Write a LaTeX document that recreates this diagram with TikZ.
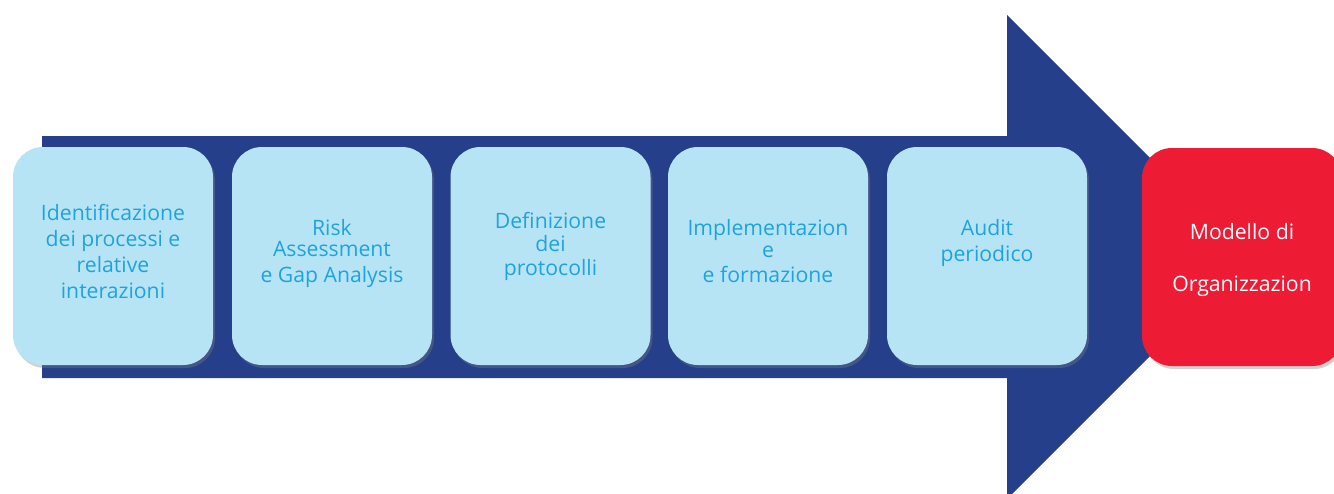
\documentclass[tikz,border=0pt]{standalone}
\usepackage{fontspec}
\setmainfont{Open Sans}
\usetikzlibrary{shadows}
\definecolor{navy}{HTML}{253F8A}
\definecolor{lightbox}{HTML}{B7E4F4}
\definecolor{textblue}{HTML}{1FA3DC}
\definecolor{redbox}{HTML}{ED1B34}
\tikzset{
  stepbox/.style={rectangle, rounded corners=30pt, minimum width=200pt, minimum height=218pt,
    inner sep=0pt, fill=lightbox, draw=none,
    drop shadow={opacity=0.35, shadow xshift=2pt, shadow yshift=-3pt}},
  goalbox/.style={stepbox, fill=redbox},
  steptext/.style={align=center, text=textblue, inner sep=0pt, font=\fontsize{21.2}{26}\selectfont},
  goaltext/.style={steptext, text=white, font=\fontsize{21.2}{52}\selectfont},
}
\begin{document}
\begin{tikzpicture}[x=1pt,y=-1pt]
\clip (0,0) rectangle (1334,493);
\fill[white] (0,0) rectangle (1334,493);
% big arrow
\fill[navy] (42,136) -- (1007,136) -- (1007,15) -- (1249,257) -- (1007,499) -- (1007,378) -- (42,378) -- cycle;
% step boxes
\node[stepbox] (b1) at (113,256) {};
\node[stepbox] (b2) at (332,256) {};
\node[stepbox] (b3) at (550.5,256) {};
\node[stepbox] (b4) at (768,256) {};
\node[stepbox] (b5) at (987,256) {};
\node[goalbox] (b6) at (1242,257) {};
% texts
\node[steptext] (t1) at (113,251) {Identificazione\\dei processi e\\relative\\interazioni};
\node[steptext] (t2) at (332,253) {Risk\\[-5pt]Assessment\\e Gap Analysis};
\node[steptext] (t3) at (550.5,246) {Definizione\\[-3pt]dei\\[-2pt]protocolli};
\node[steptext] (t4) at (768,251) {Implementazion\\[-4pt]e\\[-1pt]e formazione};
\node[steptext] (t5) at (987,243) {Audit\\periodico};
\node[goaltext] (t6) at (1242,260) {Modello di\\Organizzazion};
\end{tikzpicture}
\end{document}
